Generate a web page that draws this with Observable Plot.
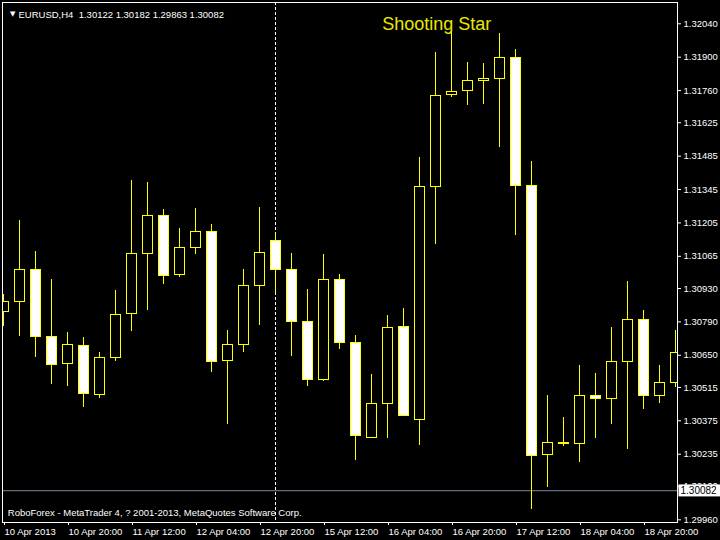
<!DOCTYPE html>
<html><head><meta charset="utf-8">
<script src="https://cdn.jsdelivr.net/npm/d3@7"></script>
<script src="https://cdn.jsdelivr.net/npm/@observablehq/plot@0.6"></script>
<style>
html,body{margin:0;padding:0;background:#000;}
svg text{white-space:pre;}
</style></head><body><div id="chart"></div>
<script>
// EURUSD H4 candles (bar index 0..42)
const open  = [1.30832,1.30874,1.31008,1.30727,1.30614,1.30690,1.30484,1.30639,1.30824,1.31076,1.31235,1.30987,1.31099,1.31168,1.30627,1.30694,1.30940,1.31130,1.31008,1.30790,1.30545,1.30966,1.30702,1.30304,1.30446,1.30769,1.30379,1.31356,1.31742,1.31759,1.31801,1.31809,1.31897,1.31361,1.30233,1.30277,1.30279,1.30480,1.30467,1.30623,1.30799,1.30480,1.30535];
const high  = [1.30905,1.31215,1.31085,1.30968,1.30744,1.30723,1.30660,1.30920,1.31382,1.31373,1.31260,1.31180,1.31265,1.31198,1.30754,1.31010,1.31270,1.31161,1.31077,1.30926,1.31073,1.30989,1.30733,1.30569,1.30817,1.30846,1.31479,1.31920,1.32008,1.31878,1.31874,1.32000,1.31932,1.31463,1.30481,1.30389,1.30607,1.30574,1.30766,1.30959,1.30836,1.30606,1.30754];
const low   = [1.30772,1.30730,1.30642,1.30529,1.30520,1.30432,1.30470,1.30625,1.30751,1.30839,1.30948,1.30977,1.31074,1.30579,1.30361,1.30663,1.30776,1.30912,1.30646,1.30520,1.30541,1.30675,1.30210,1.30304,1.30302,1.30394,1.30273,1.31116,1.31732,1.31699,1.31703,1.31523,1.31154,1.30003,1.30097,1.30269,1.30202,1.30302,1.30361,1.30256,1.30424,1.30449,1.30516];
const close = [1.30874,1.31008,1.30727,1.30610,1.30694,1.30488,1.30639,1.30820,1.31076,1.31235,1.30983,1.31101,1.31168,1.30623,1.30694,1.30941,1.31080,1.31008,1.30789,1.30545,1.30966,1.30702,1.30311,1.30446,1.30765,1.30394,1.31356,1.31738,1.31755,1.31801,1.31809,1.31897,1.31361,1.30228,1.30283,1.30283,1.30480,1.30467,1.30623,1.30799,1.30480,1.30535,1.30660];

const xTickBars   = [0,4,8,12,16,20,24,28,32,36,40];
const xTickLabels = ["10 Apr 2013","10 Apr 20:00","11 Apr 12:00","12 Apr 04:00","12 Apr 20:00","15 Apr 12:00","16 Apr 04:00","16 Apr 20:00","17 Apr 12:00","18 Apr 04:00","18 Apr 20:00"];
const yTicks = [1.32040,1.31900,1.31760,1.31625,1.31485,1.31345,1.31205,1.31065,1.30930,1.30790,1.30650,1.30515,1.30375,1.30235,1.30100,1.29960];

const bidPrice = 1.30082;
const markerBar = 17;
const headerText = "EURUSD,H4  1.30122 1.30182 1.29863 1.30082";
const patternTitle = "Shooting Star";
const captionText = "RoboForex - MetaTrader 4, ? 2001-2013, MetaQuotes Software Corp.";

const candles = open.map((o, i) => ({i, open: o, high: high[i], low: low[i], close: close[i]}));
const xLabelMap = new Map(xTickBars.map((b, k) => [b, xTickLabels[k]]));
const yellow = "#ffff00";

const chart = Plot.plot({
  width: 720,
  height: 540,
  marginLeft: 2,
  marginRight: 43,
  marginTop: 2,
  marginBottom: 18,
  style: {background: "#000", color: "#fff", fontFamily: "'Liberation Sans', Arial, sans-serif", fontSize: "9.5px"},
  x: {type: "linear", domain: [-0.0625, 42.125]},
  y: {type: "linear", domain: [1.299487, 1.321293]},
  color: {type: "identity"},
  marks: [
    Plot.ruleY([bidPrice], {stroke: "#778899", strokeWidth: 1}),
    Plot.ruleX([markerBar], {stroke: "#fff", strokeDasharray: "3,2"}),
    Plot.ruleX(candles, {x: "i", y1: "low", y2: "high", stroke: yellow, strokeWidth: 1, clip: true, shapeRendering: "crispEdges"}),
    Plot.rect(candles, {
      x1: d => d.i - 5/16, x2: d => d.i + 5/16,
      y1: "open", y2: "close",
      fill: d => d.close < d.open ? "#ffffff" : "#000000",
      stroke: yellow, strokeWidth: 1, clip: true, shapeRendering: "crispEdges"
    }),
    Plot.axisX({ticks: xTickBars, tickFormat: d => xLabelMap.get(d), tickSize: 3, tickPadding: 3, textAnchor: "start", dx: 1, label: null}),
    Plot.axisY({anchor: "right", ticks: yTicks, tickFormat: d => d.toFixed(5), tickSize: 3, tickPadding: 3, label: null}),
    Plot.text(["▼"], {frameAnchor: "top-left", dx: 7.5, dy: 8.5, fill: "#fff", fontSize: 7, fontFamily: "DejaVu Sans"}),
    Plot.text([headerText], {frameAnchor: "top-left", dx: 16, dy: 8.7, textAnchor: "start", fill: "#fff"}),
    Plot.text([patternTitle], {frameAnchor: "top-left", dx: 379.7, dy: 15, textAnchor: "start", fill: "#e8e800", fontSize: 18}),
    Plot.text([captionText], {frameAnchor: "bottom-left", dx: 5.3, dy: -7, textAnchor: "start", fill: "#fff"}),
    Plot.text([bidPrice], {y: d => d, frameAnchor: "right", dx: 3, textAnchor: "start", fill: "#000", text: d => d.toFixed(5), fontSize: 10}),
    Plot.frame({stroke: "#fff"})
  ]
});
document.getElementById("chart").appendChild(chart);

// white background box behind the bid price label
d3.select(chart).selectAll("text").filter(function() { return this.textContent === bidPrice.toFixed(5); })
  .each(function() {
    const b = this.getBBox();
    const g = this.parentNode;
    const t = this.getAttribute("transform");
    const r = document.createElementNS("http://www.w3.org/2000/svg", "rect");
    r.setAttribute("x", b.x - 2);
    r.setAttribute("y", b.y - 0.5);
    r.setAttribute("width", 60);
    r.setAttribute("height", b.height + 1);
    r.setAttribute("fill", "#fff");
    if (t) r.setAttribute("transform", t);
    g.insertBefore(r, this);
  });
</script>
</body></html>
